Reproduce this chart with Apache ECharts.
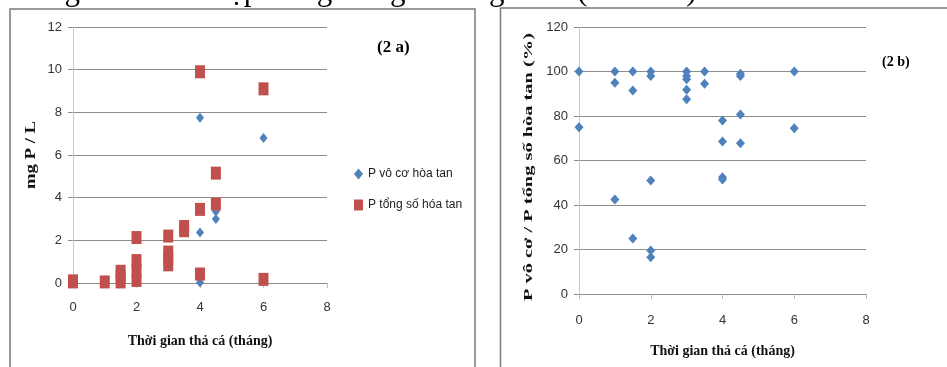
<!DOCTYPE html>
<html>
<head>
<meta charset="utf-8">
<script src="https://cdn.jsdelivr.net/npm/echarts@6/dist/echarts.min.js"></script>
<style>
html, body { margin: 0; padding: 0; background: #fff; }
#main { width: 947px; height: 367px; }
</style>
</head>
<body>
<div id="main"></div>
<script>
// chart (2 a): mg P / L against months
const inorgA_x = [0, 1, 1.5, 2, 3, 3.5, 4, 4, 4, 4.5, 4.5, 6];
const inorgA_y = [0.05, 0.03, 0.1, 0.2, 1.1, 2.5, 7.75, 2.37, 0.02, 3.35, 3.0, 6.8];
const totalA_x = [0, 0, 1, 1.5, 1.5, 1.5, 2, 2, 2, 2, 3, 3, 3, 3, 3.5, 3.5, 4, 4, 4, 4.5, 4.5, 6, 6];
const totalA_y = [0.1, 0.05, 0.05, 0.55, 0.3, 0.05, 2.13, 1.05, 0.6, 0.12, 2.2, 1.45, 1.15, 0.85, 2.65, 2.45, 9.9, 3.45, 0.42, 5.15, 3.7, 9.1, 0.17];

// chart (2 b): ratio in %
const ratioB_x = [0, 0, 1, 1, 1, 1.5, 1.5, 1.5, 2, 2, 2, 2, 2, 3, 3, 3, 3, 3, 3.5, 3.5, 4, 4, 4, 4, 4.5, 4.5, 4.5, 4.5, 6, 6];
const ratioB_y = [100, 75, 100, 95, 42.5, 100, 91.5, 25, 100, 98, 51, 19.5, 16.5, 100, 98, 96.5, 91.8, 87.5, 100, 94.5, 78, 68.5, 52.5, 51.5, 99, 98, 80.7, 67.7, 100, 74.5];

const xTicks = [0, 2, 4, 6, 8];
const yTicksA = [0, 2, 4, 6, 8, 10, 12];
const yTicksB = [0, 20, 40, 60, 80, 100, 120];

const nameInorg = 'P vô cơ hòa tan';
const nameTotal = 'P tổng số hóa tan';
const nameRatio = 'P vô cơ / P tổng số';
const xTitle = 'Thời gian thả cá (tháng)';
const yTitleA = 'mg P / L';
const yTitleB = 'P vô cơ / P tổng số hòa tan (%)';
const topLine = 'P tổng số hòa tan tập trung trong khoảng 97% (Hình 2c).';

function zip(xs, ys) {
  return xs.map((x, i) => [x, ys[i]]);
}

const BLUE = '#4F81BD';
const RED = '#C0504D';
const GRID = '#8c8c8c';
const tickFont = '"Liberation Sans Narrow", "Liberation Sans", Arial, sans-serif';
const serif = '"Liberation Serif", "DejaVu Serif", serif';

function xAxisCfg(gridIndex, margin, gap) {
  return {
    type: 'value', gridIndex: gridIndex,
    min: xTicks[0], max: xTicks[xTicks.length - 1], interval: 2,
    name: xTitle, nameLocation: 'middle', nameGap: gap,
    nameTextStyle: { fontFamily: serif, fontWeight: 'bold', fontSize: 14, color: '#111' },
    axisLine: { show: true, onZero: false, lineStyle: { color: GRID, width: 1 } },
    axisTick: { show: true, length: 5, lineStyle: { color: '#bdbdbd' } },
    axisLabel: { margin: margin, fontFamily: tickFont, fontSize: 13, color: '#333' },
    splitLine: { show: false }
  };
}

function yAxisCfg(gridIndex, ticks, interval) {
  return {
    type: 'value', gridIndex: gridIndex,
    min: ticks[0], max: ticks[ticks.length - 1], interval: interval,
    axisLine: { show: true, lineStyle: { color: '#c8c8c8', width: 1 } },
    axisTick: { show: true, length: 5, lineStyle: { color: GRID } },
    axisLabel: { margin: 11, fontFamily: tickFont, fontSize: 13, color: '#333' },
    splitLine: { show: true, lineStyle: { color: GRID, width: 1 } }
  };
}

const chart = echarts.init(document.getElementById('main'));

const option = {
  animation: false,
  backgroundColor: '#fff',
  grid: [
    { left: 73, top: 27, width: 254, height: 256 },
    { left: 579, top: 27, width: 287, height: 267 }
  ],
  xAxis: [xAxisCfg(0, 18, 51), xAxisCfg(1, 20, 50)],
  yAxis: [yAxisCfg(0, yTicksA, 2), yAxisCfg(1, yTicksB, 20)],
  legend: {
    orient: 'vertical', left: 349, top: 163,
    itemWidth: 9, itemHeight: 11, itemGap: 19,
    textStyle: { fontFamily: tickFont, fontSize: 12, color: '#222' },
    data: [
      { name: nameInorg, icon: 'diamond' },
      { name: nameTotal, icon: 'rect' }
    ]
  },
  series: [
    {
      name: nameInorg, type: 'scatter', xAxisIndex: 0, yAxisIndex: 0,
      symbol: 'diamond', symbolSize: [8, 10],
      itemStyle: { color: BLUE, opacity: 1 },
      data: zip(inorgA_x, inorgA_y)
    },
    {
      name: nameTotal, type: 'scatter', xAxisIndex: 0, yAxisIndex: 0,
      symbol: 'rect', symbolSize: [10, 13],
      itemStyle: { color: RED, opacity: 1 },
      data: zip(totalA_x, totalA_y)
    },
    {
      name: nameRatio, type: 'scatter', xAxisIndex: 1, yAxisIndex: 1,
      symbol: 'diamond', symbolSize: [9, 10],
      itemStyle: { color: BLUE, opacity: 1 },
      data: zip(ratioB_x, ratioB_y)
    }
  ],
  graphic: [
    {
      type: 'rect', silent: true,
      shape: { x: 10, y: 9, width: 465, height: 420 },
      style: { fill: 'none', stroke: '#7a7a7a', lineWidth: 1.5 }
    },
    {
      type: 'rect', silent: true,
      shape: { x: 500.5, y: 8, width: 500, height: 420 },
      style: { fill: 'none', stroke: '#7a7a7a', lineWidth: 1.5 }
    },
    {
      type: 'text', silent: true, x: 377, y: 48,
      style: { text: '(2 a)', fill: '#000', font: 'bold 17px ' + serif, verticalAlign: 'middle' }
    },
    {
      type: 'text', silent: true, x: 882, y: 62,
      style: { text: '(2 b)', fill: '#000', font: 'bold 14px ' + serif, verticalAlign: 'middle' }
    },
    {
      // y axis titles, stretched like the source picture
      type: 'text', silent: true, x: 31.5, y: 155, rotation: Math.PI / 2, scaleX: 1.25,
      style: { text: yTitleA, fill: '#111', font: 'bold 15px ' + serif, align: 'center', verticalAlign: 'middle' }
    },
    {
      type: 'text', silent: true, x: 529, y: 167, rotation: Math.PI / 2, scaleX: 1.7,
      style: { text: yTitleB, fill: '#111', font: 'bold 12px ' + serif, align: 'center', verticalAlign: 'middle' }
    },
    {
      type: 'text', silent: true, x: 0, y: 7,
      style: { text: topLine, fill: '#000', font: '31px ' + serif, verticalAlign: 'bottom' }
    }
  ]
};

chart.setOption(option);
</script>
</body>
</html>
